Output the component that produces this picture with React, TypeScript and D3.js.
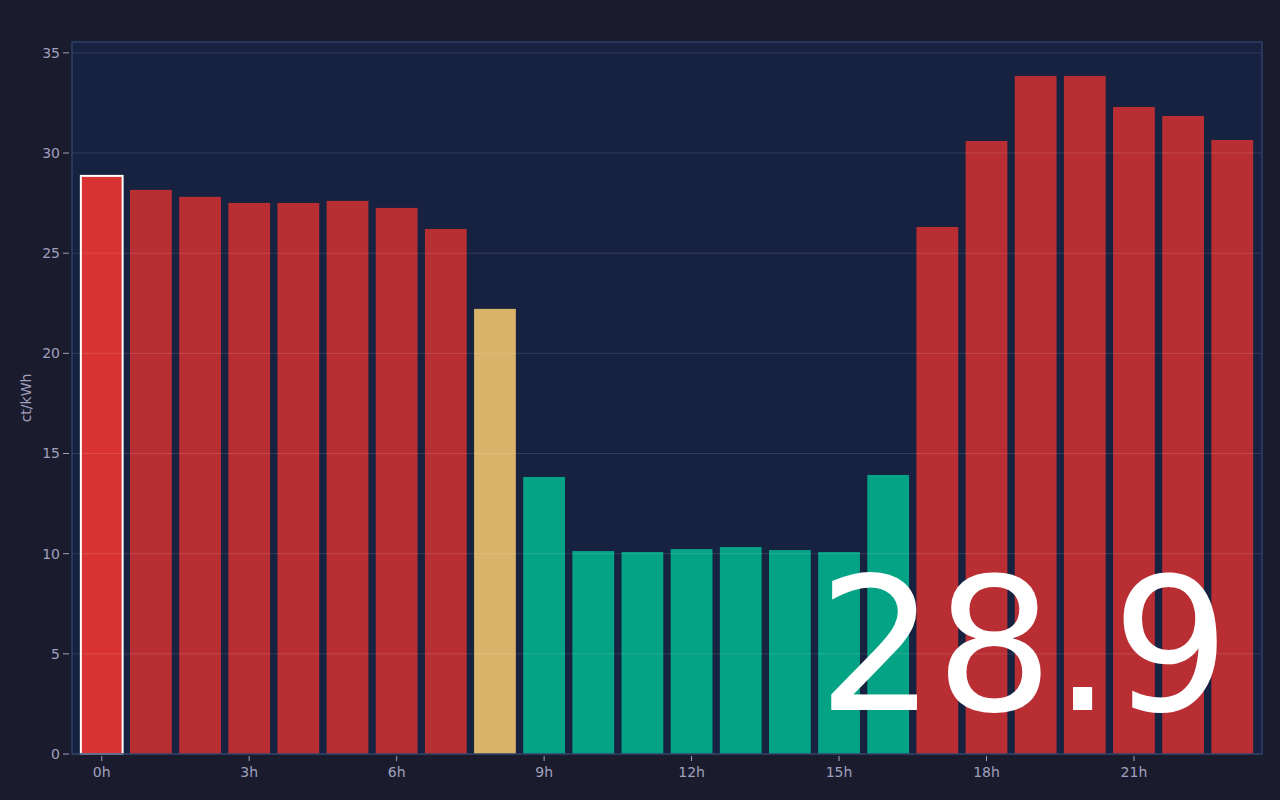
import { useMemo } from "react";
import * as d3 from "d3";

const hours = d3.range(24);
const prices = [
  28.86, 28.16, 27.81, 27.51, 27.51, 27.61, 27.26, 26.21, 22.22, 13.83, 10.13, 10.08,
  10.23, 10.33, 10.18, 10.08, 13.93, 26.31, 30.6, 33.85, 33.85, 32.3, 31.85, 30.65,
];
const yTicks = [0, 5, 10, 15, 20, 25, 30, 35];
const xTicks = [0, 3, 6, 9, 12, 15, 18, 21];
const currentHour = 0;

const width = 1280;
const height = 800;
const margin = { top: 42, right: 18, bottom: 46, left: 72 };

function barColor(v: number, current: boolean) {
  if (v >= 25) return current ? "#d83332" : "#b82e33";
  if (v >= 15) return "#d9b36a";
  return "#04a386";
}

export default function App() {
  const innerW = width - margin.left - margin.right;
  const innerH = height - margin.top - margin.bottom;

  const { x, y } = useMemo(() => {
    const x = d3
      .scaleBand<number>()
      .domain(hours)
      .range([0, innerW])
      .paddingInner(0.15)
      .paddingOuter(0.18);
    const y = d3
      .scaleLinear()
      .domain([0, (d3.max(prices) ?? 0) * 1.05])
      .range([innerH, 0]);
    return { x, y };
  }, [innerW, innerH]);

  const tickColor = "#a0a0be";

  return (
    <div style={{ position: "fixed", inset: 0, background: "#1b1b2e" }}>
      <svg width={width} height={height} style={{ display: "block", fontFamily: "DejaVu Sans, sans-serif" }}>
        <g transform={`translate(${margin.left},${margin.top})`}>
          <rect width={innerW} height={innerH} fill="#172240" />

          {prices.map((v, i) => {
            const current = i === currentHour;
            return (
              <rect
                key={i}
                x={x(i)}
                y={y(v)}
                width={x.bandwidth()}
                height={innerH - y(v)}
                fill={barColor(v, current)}
                stroke={current ? "#ffffff" : "none"}
                strokeWidth={current ? 2 : 0}
              />
            );
          })}

          {yTicks.map(t => (
            <line
              key={t}
              x1={0}
              x2={innerW}
              y1={y(t)}
              y2={y(t)}
              stroke="#ffffff"
              strokeOpacity={0.12}
            />
          ))}

          <rect width={innerW} height={innerH} fill="none" stroke="#2f4068" strokeWidth={1.5} />

          {yTicks.map(t => (
            <g key={t} transform={`translate(0,${y(t)})`}>
              <line x1={-9} x2={-3} stroke={tickColor} />
              <text x={-12} dy="0.35em" textAnchor="end" fill={tickColor} fontSize={14}>
                {t}
              </text>
            </g>
          ))}

          {xTicks.map(t => (
            <g key={t} transform={`translate(${(x(t) ?? 0) + x.bandwidth() / 2},${innerH})`}>
              <line y1={2} y2={7} stroke={tickColor} />
              <text y={23} textAnchor="middle" fill={tickColor} fontSize={14}>
                {`${t}h`}
              </text>
            </g>
          ))}

          <text
            transform={`translate(${-41},${innerH / 2}) rotate(-90)`}
            textAnchor="middle"
            fill={tickColor}
            fontSize={14}
          >
            ct/kWh
          </text>

          <text
            x={(x(20) ?? 0) + x.bandwidth() / 2 - 61}
            y={y(2.2)}
            textAnchor="middle"
            fill="#ffffff"
            fontSize={185}
          >
            {prices[currentHour].toFixed(1)}
          </text>
        </g>
      </svg>
    </div>
  );
}
